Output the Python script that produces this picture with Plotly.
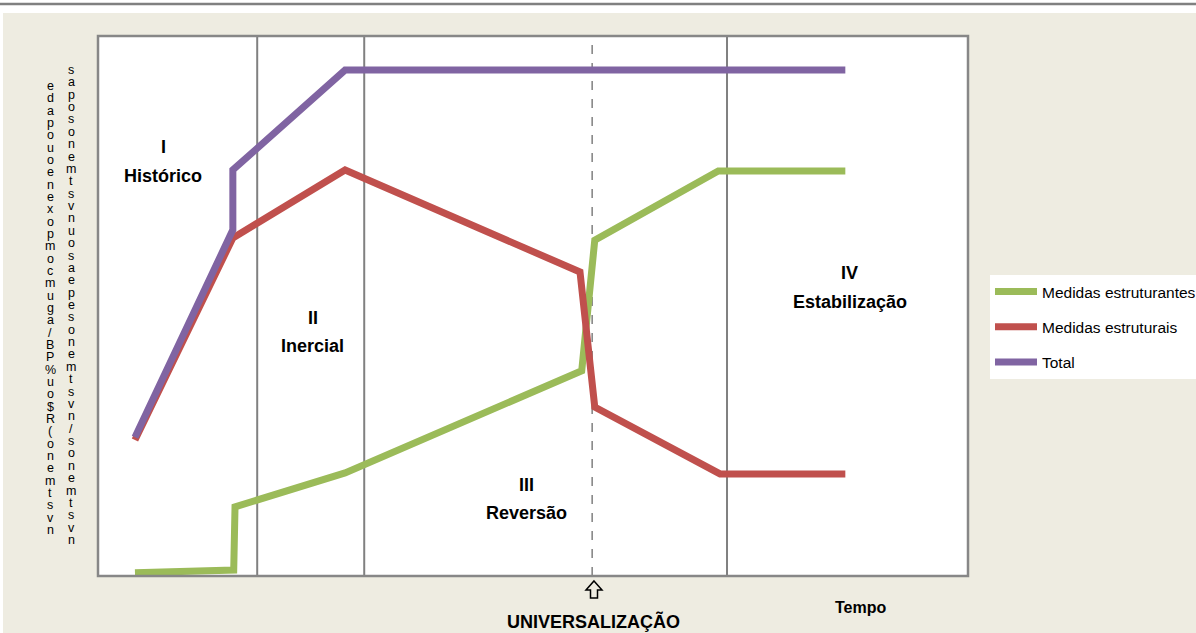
import plotly.graph_objects as go

# ---- data (x: time units 0-100, y: relative level 0-100) ----
series_names = ["Medidas estruturantes", "Medidas estruturais", "Total"]
series_colors = ["#9BBB59", "#C0504D", "#8064A2"]

green_x = [4.25, 15.6, 15.75, 28.4, 55.6, 57.1, 71.3, 85.9]
green_y = [0.6, 1.1, 12.8, 19.1, 38.0, 62.2, 75.0, 75.0]

red_x = [4.25, 15.5, 28.4, 55.4, 57.1, 71.5, 85.9]
red_y = [25.2, 62.6, 75.2, 56.3, 31.3, 18.9, 18.9]

purple_x = [4.25, 15.5, 15.5, 28.4, 85.9]
purple_y = [25.7, 64.1, 75.2, 93.7, 93.7]

phase_bounds = [18.3, 30.6, 72.3]
universal_x = 56.8

phase_numbers = ["I", "II", "III", "IV"]
phase_names = ["Histórico", "Inercial", "Reversão", "Estabilização"]
phase_label_x = [7.5, 24.7, 49.3, 86.4]
phase_label_y = [79.4, 47.8, 16.9, 56.1]
phase_name_y = [74.1, 42.6, 11.7, 50.7]

ylab_col1 = list("edapouoenexopmocmuga/BP%uo$R(onemtsvn")
ylab_col2 = list("sapo") + list("sonemtsvn") + list("uosaepe") + list("sonemtsvn") + ["/"] + list("sonemtsvn")

FONT = "Liberation Sans, Arial, sans-serif"


def px(x):
    return (x - 98) / 870


def py(y):
    return (576 - y) / 540


fig = go.Figure()
for name, color, xs, ys in zip(series_names, series_colors,
                               [green_x, red_x, purple_x], [green_y, red_y, purple_y]):
    fig.add_trace(go.Scatter(x=xs, y=ys, mode="lines", name=name, legendgroup=name,
                             line=dict(color=color, width=7)))

shapes = []
# top decoration
shapes.append(dict(type="rect", xref="paper", yref="paper", x0=-0.2, x1=1.3, y0=py(13), y1=1.12,
                   fillcolor="white", line=dict(width=0), layer="below"))
shapes.append(dict(type="rect", xref="paper", yref="paper", x0=-0.2, x1=px(3), y0=-0.2, y1=1.12,
                   fillcolor="white", line=dict(width=0), layer="below"))
shapes.append(dict(type="line", xref="paper", yref="paper", x0=-0.2, x1=1.3, y0=py(4), y1=py(4),
                   line=dict(color="#808080", width=2.5)))
for xb in phase_bounds:
    shapes.append(dict(type="line", xref="x", yref="paper", x0=xb, x1=xb, y0=0, y1=1,
                       line=dict(color="#808080", width=2), layer="below"))
shapes.append(dict(type="line", xref="x", yref="paper", x0=universal_x, x1=universal_x, y0=0, y1=1,
                   line=dict(color="#808080", width=1.5, dash="dash"), layer="below"))
shapes.append(dict(type="rect", xref="paper", yref="paper", x0=0, x1=1, y0=0, y1=1,
                   line=dict(color="#878787", width=2.5)))
# outline up-arrow under the plot
arrow_pts = [(594, 581), (602, 590), (597.5, 590), (597.5, 598), (590.5, 598), (590.5, 590), (586, 590)]
path = "M " + " L ".join(f"{px(a):.5f},{py(b):.5f}" for a, b in arrow_pts) + " Z"
shapes.append(dict(type="path", xref="paper", yref="paper", path=path,
                   line=dict(color="black", width=1.5), fillcolor="rgba(0,0,0,0)"))

ann = []
for num, nm, lx, ly, ny in zip(phase_numbers, phase_names, phase_label_x, phase_label_y, phase_name_y):
    ann.append(dict(x=lx, y=ly, xref="x", yref="y", text=f"<b>{num}</b>", showarrow=False,
                    font=dict(family=FONT, size=18, color="black")))
    ann.append(dict(x=lx, y=ny, xref="x", yref="y", text=f"<b>{nm}</b>", showarrow=False,
                    font=dict(family=FONT, size=18, color="black")))

ann.append(dict(x=57.0, y=py(621), xref="x", yref="paper", text="<b>UNIVERSALIZAÇÃO</b>", showarrow=False,
                xanchor="center", yanchor="middle",
                font=dict(family=FONT, size=18, color="black")))
ann.append(dict(x=px(860), y=py(607), xref="paper", yref="paper", text="<b>Tempo</b>", showarrow=False,
                xanchor="center", yanchor="middle",
                font=dict(family=FONT, size=16, color="black")))

# stacked-character axis caption (two columns, characters overlapping slightly)
for chars, cx, top, bottom in [(ylab_col1, 50, 86, 530), (ylab_col2, 71, 70, 540)]:
    step = (bottom - top) / (len(chars) - 1)
    for i, ch in enumerate(chars):
        ann.append(dict(x=px(cx), y=py(top + i * step), xref="paper", yref="paper", text=ch,
                        showarrow=False, xanchor="center", yanchor="middle",
                        font=dict(family=FONT, size=12.5, color="black")))

fig.update_layout(
    width=1196, height=633,
    margin=dict(l=98, r=228, t=36, b=57, autoexpand=False),
    paper_bgcolor="#EEECE1", plot_bgcolor="white",
    xaxis=dict(range=[0, 100], showgrid=False, zeroline=False, showticklabels=False, ticks=""),
    yaxis=dict(range=[0, 100], showgrid=False, zeroline=False, showticklabels=False, ticks=""),
    shapes=shapes, annotations=ann,
    showlegend=True,
    legend=dict(x=px(990), y=py(275), xanchor="left", yanchor="top",
                bgcolor="white", font=dict(family=FONT, size=15.5, color="black"),
                traceorder="grouped", tracegroupgap=12, itemwidth=42),
)

fig.write_html("out.html", post_script="document.body.style.margin='0';",
               config={"displayModeBar": False})
